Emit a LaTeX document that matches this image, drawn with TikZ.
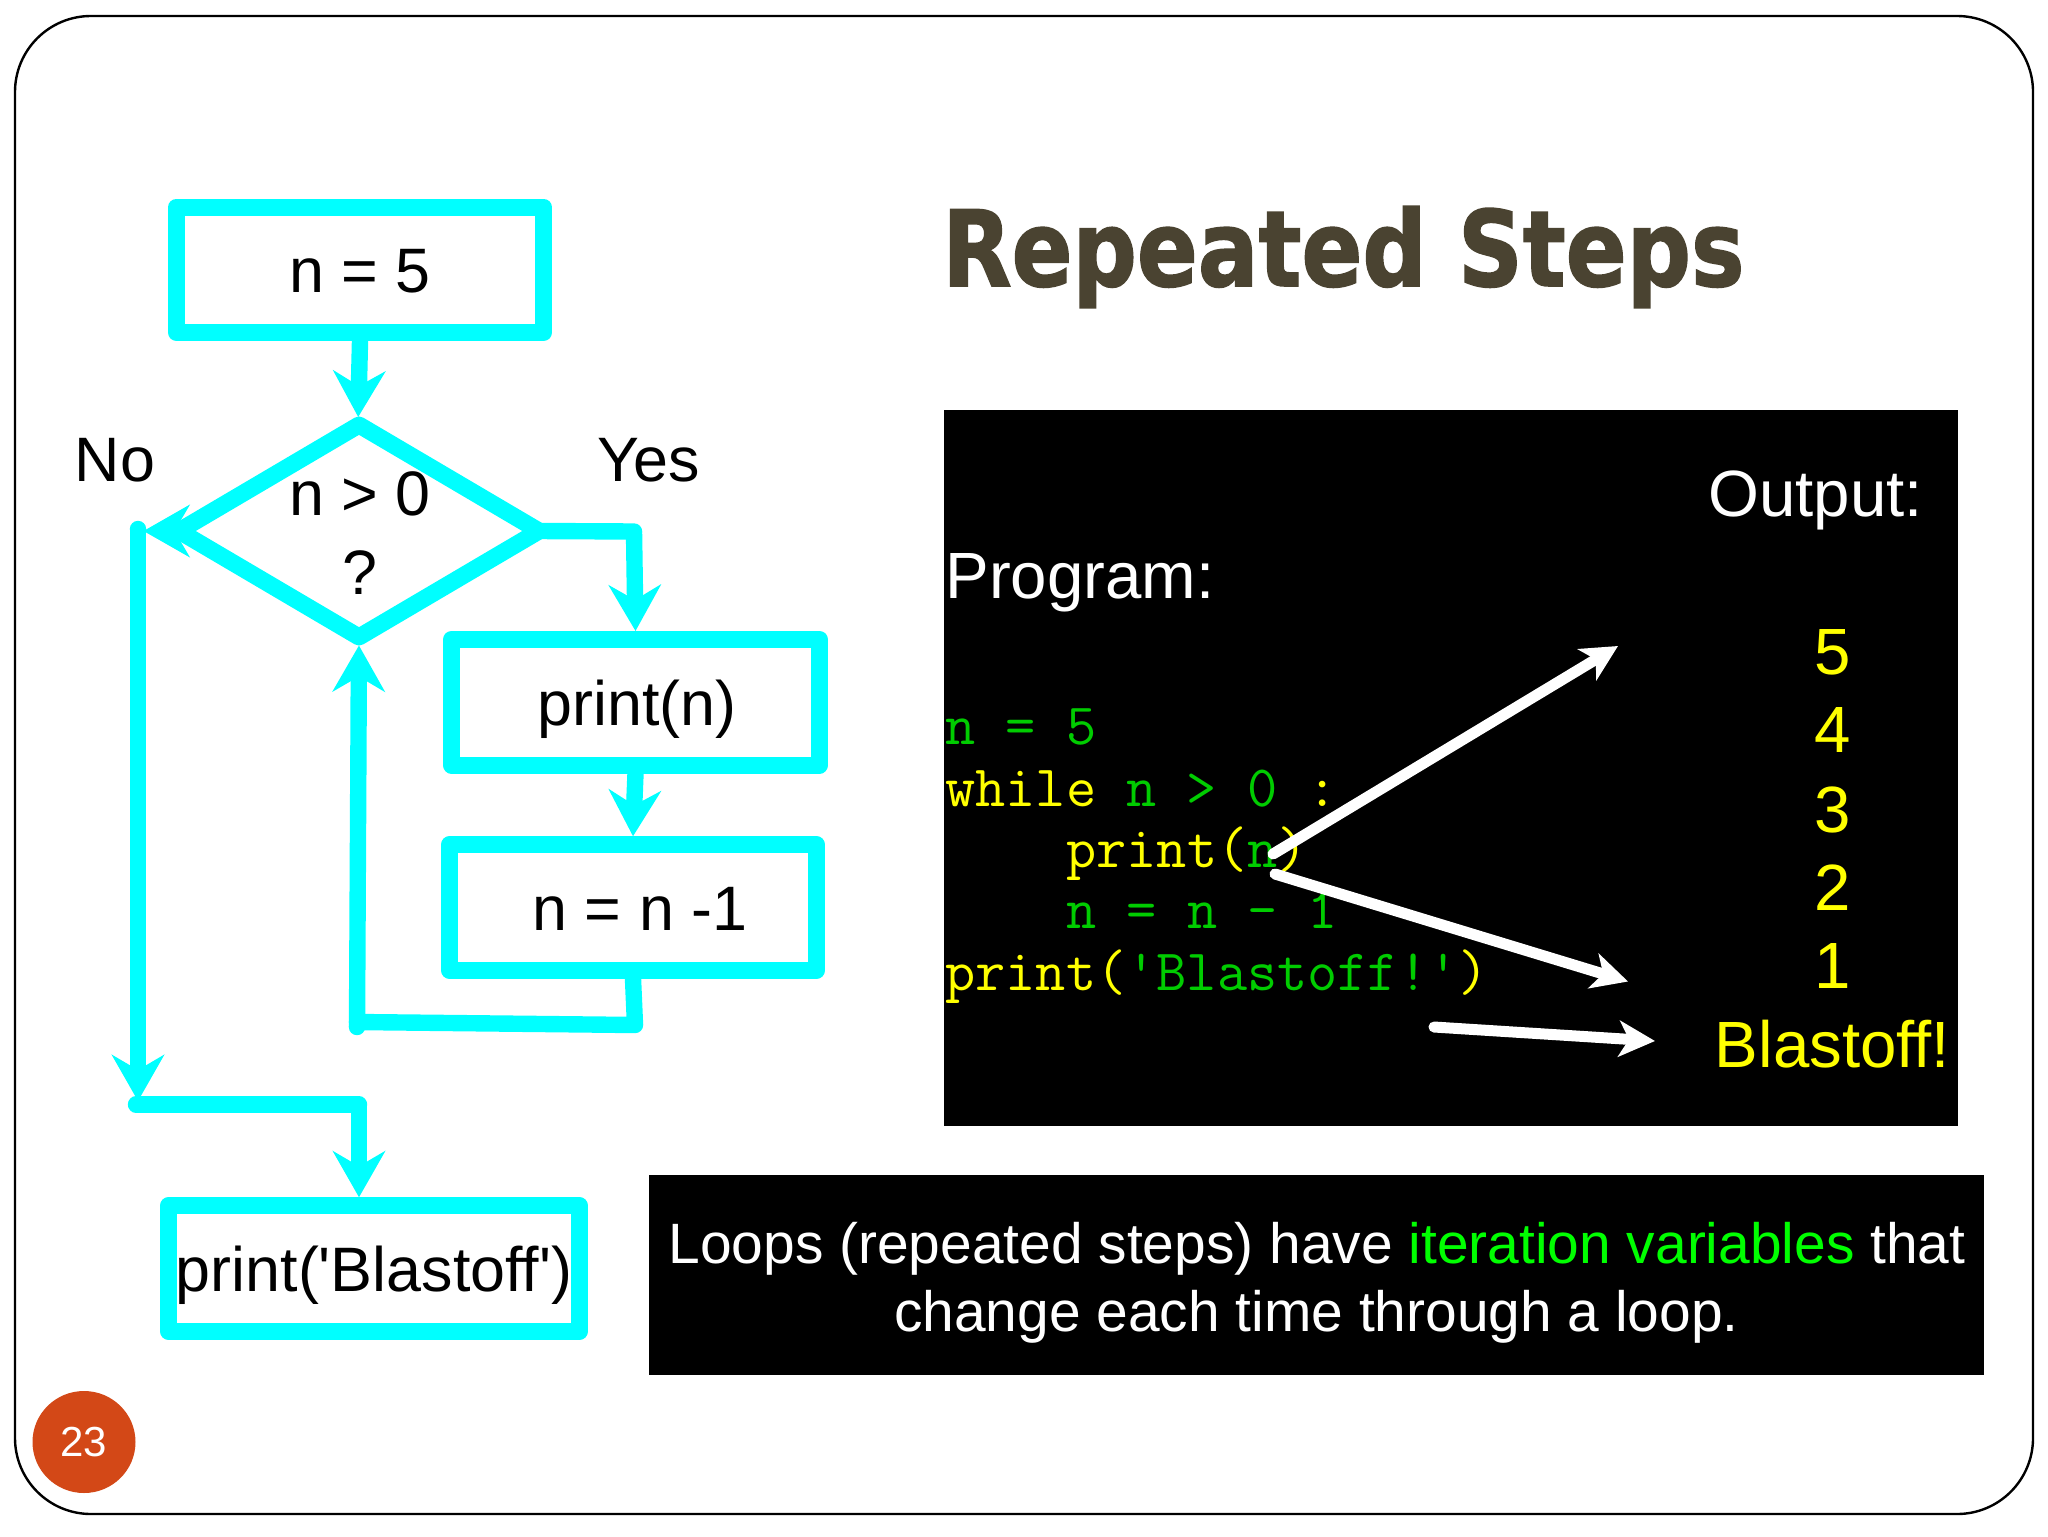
\documentclass[tikz,border=0pt]{standalone}
\usepackage{fontspec}
\usepackage{graphicx}
\setmainfont{Liberation Sans}
\newfontfamily\titlefont[BoldFeatures={FakeBold=1.5}]{DejaVu Sans}
\usetikzlibrary{arrows.meta,shapes.geometric}
\definecolor{flow}{RGB}{0,255,255}
\definecolor{titlec}{RGB}{74,67,49}
\definecolor{codeg}{RGB}{0,204,0}
\definecolor{codey}{RGB}{255,255,0}
\definecolor{iter}{RGB}{0,255,0}
\definecolor{badge}{RGB}{211,72,23}
\newcommand\fsz[1]{\fontsize{#1}{#1}\selectfont}
\newcommand\cg[1]{\textcolor{codeg}{#1}}
\newcommand\cy[1]{\textcolor{codey}{#1}}
\tikzset{
  fbox/.style={draw=flow,line width=8.5pt,line join=round,inner sep=0pt,outer sep=.5\pgflinewidth,
    minimum width=#1,minimum height=62.75pt,text height=23pt,text depth=0pt,font=\fsz{31.4}},
  fline/.style={draw=flow,line width=8.2pt,line cap=round},
  farrow/.style={draw=flow,line width=8.2pt,-{Stealth[length=23pt,width=26pt,inset=7.5pt,flow]}},
  warrow/.style={draw=white,line width=5.5pt,line cap=round,-{Stealth[length=18pt,width=18pt,inset=5pt,white]}},
  lbl/.style={anchor=base,inner sep=0pt,font=\fsz{31.4}},
  big/.style={anchor=base,inner sep=0pt,font=\fsz{32.7}},
  code/.style={anchor=base west,inner sep=0pt,font=\ttfamily\fsz{29.3}},
}
\begin{document}
\begin{tikzpicture}[x=0.5pt,y=-0.5pt]
\useasboundingbox (0,0) rectangle (2048,1536);
\fill[white] (0,0) rectangle (2048,1536);
% slide frame
\draw[black,line width=1.2pt,rounded corners=38pt] (15,16) rectangle (2033,1514);
% badge
\node[ellipse,fill=badge,minimum width=51.5pt,minimum height=51pt,inner sep=0pt,text=white,font=\fsz{21}] (badge) at (84,1442) {23};
% title
\node[anchor=base west,inner sep=0pt,text=titlec,font=\titlefont\bfseries\fsz{52.5}] (title) at (942,286) {\scalebox{.856}[1]{Repeated Steps}};
% black panels
\fill[black] (944,409.5) rectangle (1958,1126);
\fill[black] (649,1175) rectangle (1984,1375);
\node[big,text=white,anchor=base west] (prog) at (945,598) {Program:};
\node[big,text=white,anchor=base west] (outp) at (1708,516.5) {Output:};
\node[big,text=codey] (o5) at (1832.5,674.5) {5};
\node[big,text=codey] (o4) at (1832.5,752.5) {4};
\node[big,text=codey] (o3) at (1832.5,832) {3};
\node[big,text=codey] (o2) at (1832.5,910) {2};
\node[big,text=codey] (o1) at (1832.5,988.5) {1};
\node[big,text=codey] (o0) at (1832.5,1067) {Blastoff!};
\node[code] (c1) at (945,744.5) {\cg{n = 5}};
\node[code] (c2) at (945,806) {\cy{while} \cg{n > 0} \cy{:}};
\node[code] (c3) at (1066,867.5) {\cy{print(}\cg{n}\cy{)}};
\node[code] (c4) at (1066,928.5) {\cg{n = n - 1}};
\node[code] (c5) at (945,990) {\cy{print(}\cg{'Blastoff!'}\cy{)}};
% white arrows
\coordinate (a1s) at (1273,854); \coordinate (a1e) at (1618,646);
\coordinate (a2s) at (1275,874); \coordinate (a2e) at (1628,981.5);
\coordinate (a3s) at (1434,1027); \coordinate (a3e) at (1655,1041);
\draw[warrow] (a1s) -- (a1e);
\draw[warrow] (a2s) -- (a2e);
\draw[warrow] (a3s) -- (a3e);
% bottom text
\node[anchor=base,inner sep=0pt,text=white,font=\fsz{28.45}] (l1) at (1317,1263) {Loops (repeated steps) have \textcolor{iter}{iteration variables} that};
\node[anchor=base,inner sep=0pt,text=white,font=\fsz{28.45}] (l2) at (1316.5,1331) {change each time through a loop.};
% flowchart
\node[fbox=183.5pt] (b1) at (360,269.75) {n = 5};
\node[diamond,draw=flow,line width=8.5pt,line join=round,inner sep=0pt,outer sep=0pt,minimum width=180pt,minimum height=106pt] (d) at (359,531) {};
\node[lbl] (dt1) at (360,515.5) {n > 0};
\node[lbl] (dt2) at (360,594) {?};
\node[lbl] (no) at (115,481) {No};
\node[lbl] (yes) at (649,481) {Yes};
\node[fbox=184pt] (b2) at (635.5,702.25) {\hspace{1.5pt}print(n)};
\node[fbox=183.5pt] (b3) at (633,907.5) {\hspace{7pt}n = n -1};
\node[fbox=205.5pt] (b4) at (374,1268.5) {print(\textquotesingle Blastoff\textquotesingle)};
% connectors
\coordinate (yes1) at (634,531.5);
\coordinate (ret1) at (635,1025);
\coordinate (ret2) at (357,1022);
\coordinate (ret3) at (357,1027);
\coordinate (no0) at (143.5,531);
\coordinate (no1) at (138,529);
\coordinate (no2) at (138,1101);
\coordinate (no3) at (136,1104.5);
\coordinate (no4) at (359,1104.5);
\draw[farrow,shorten >=4pt] (b1.south) -- ([shift={(-1,0)}]d.north);
\draw[fline] (d.east) -- (yes1);
\draw[farrow] (yes1) -- (b2.north);
\draw[farrow] (b2.south) -- (b3.north);
\draw[line width=8.2pt,draw=flow] (b3.south) -- (ret1);
\draw[fline] (ret1) -- (ret2);
\draw[farrow,shorten >=4.25pt] (ret3) -- (d.south);
\fill[flow] (ret3) circle (4.1pt);
\draw[farrow] (d.west) -- (no0);
\draw[farrow] (no1) -- (no2);
\fill[flow] (no1) circle (4.1pt);
\draw[fline] (no3) -- (no4);
\draw[farrow] (no4) -- (b4.north -| no4);
\end{tikzpicture}
\end{document}
